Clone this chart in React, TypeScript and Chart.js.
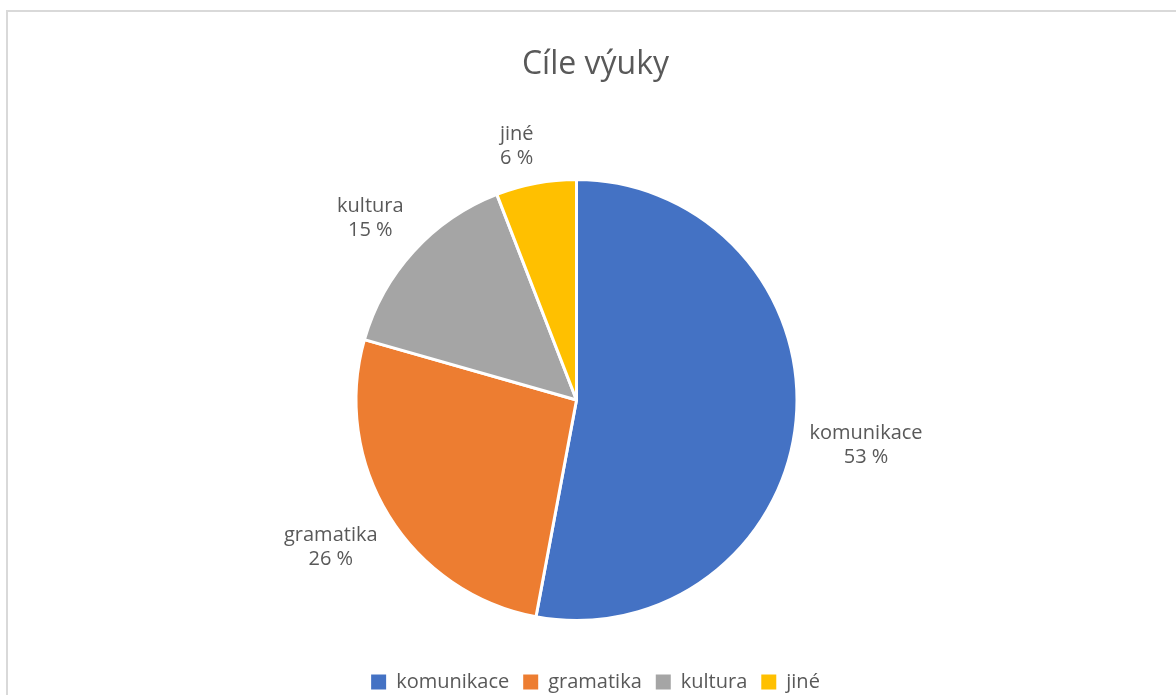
import { useEffect, useRef } from "react";
import { Chart, registerables } from "chart.js";

Chart.register(...registerables);

// ---- data ----
const chartTitle = "Cíle výuky";
const categories = ["komunikace", "gramatika", "kultura", "jiné"];
const counts = [18, 9, 5, 2];
const sliceColors = ["#4472C4", "#ED7D31", "#A5A5A5", "#FFC000"];

// ---- style / layout ----
const FONT = "'Open Sans', 'DejaVu Sans', sans-serif";
const TEXT_COLOR = "#595959";
const CANVAS_W = 1175;
const CANVAS_H = 690;
const PIE_CX = 568.5; // canvas-local
const PIE_CY = 388;
const PIE_HALF = 222; // half of the square area given to the pie
const SLICE_BORDER = 3;
const LABEL_GAP = 13.5;
const LABEL_LINE_H = 24;
const LABEL_SIZE = 20;

const pieArea = {
  id: "pieArea",
  afterLayout(chart: any) {
    chart.chartArea = {
      left: PIE_CX - PIE_HALF,
      right: PIE_CX + PIE_HALF,
      top: PIE_CY - PIE_HALF,
      bottom: PIE_CY + PIE_HALF,
      width: PIE_HALF * 2,
      height: PIE_HALF * 2,
    };
  },
};

const pieLabels = {
  id: "pieLabels",
  afterDatasetsDraw(chart: any) {
    const ctx = chart.ctx;
    const meta = chart.getDatasetMeta(0);
    const data = chart.data.datasets[0].data as number[];
    const total = data.reduce((a, b) => a + b, 0);
    ctx.save();
    ctx.font = `${LABEL_SIZE}px ${FONT}`;
    ctx.fillStyle = TEXT_COLOR;
    ctx.textAlign = "center";
    ctx.textBaseline = "middle";
    meta.data.forEach((arc: any, i: number) => {
      const { x, y, startAngle, endAngle, outerRadius } = arc.getProps(
        ["x", "y", "startAngle", "endAngle", "outerRadius"],
        true
      );
      const mid = (startAngle + endAngle) / 2;
      const cos = Math.cos(mid);
      const sin = Math.sin(mid);
      const lines = [
        String(chart.data.labels[i]),
        `${Math.round((data[i] / total) * 100)} %`,
      ];
      const hw = Math.max(...lines.map((l) => ctx.measureText(l).width)) / 2;
      const hh = (LABEL_LINE_H * lines.length) / 2;
      const d = outerRadius + LABEL_GAP;
      const px = x + d * cos;
      const py = y + d * sin;
      const cx = px + Math.sign(cos) * hw;
      const cy = py + Math.sign(sin) * hh;
      lines.forEach((l, k) => {
        ctx.fillText(l, cx, cy + (k - (lines.length - 1) / 2) * LABEL_LINE_H);
      });
    });
    ctx.restore();
  },
};

export default function App() {
  const ref = useRef<HTMLCanvasElement | null>(null);

  useEffect(() => {
    if (!ref.current) return;
    const chart = new Chart(ref.current, {
      type: "pie",
      data: {
        labels: categories,
        datasets: [
          {
            data: counts,
            backgroundColor: sliceColors,
            borderColor: "#ffffff",
            borderWidth: SLICE_BORDER,
            clip: false as any,
          },
        ],
      },
      options: {
        responsive: false,
        animation: false,
        layout: { padding: 0 },
        plugins: {
          title: {
            display: true,
            text: chartTitle,
            color: TEXT_COLOR,
            font: { family: FONT, size: 32, weight: "normal" as any },
            padding: { top: 34, bottom: 10 },
          },
          legend: {
            display: true,
            position: "bottom",
            labels: {
              color: TEXT_COLOR,
              font: { family: FONT, size: 20 },
              boxWidth: 15,
              boxHeight: 15,
              padding: 14,
              generateLabels: (c: any) =>
                (Chart as any).overrides.pie.plugins.legend.labels
                  .generateLabels(c)
                  .map((l: any) => ({ ...l, lineWidth: 0 })),
            },
          },
          tooltip: { enabled: false },
        },
      },
      plugins: [pieArea, pieLabels],
    });
    return () => chart.destroy();
  }, []);

  return (
    <div
      style={{
        position: "fixed",
        inset: 0,
        overflow: "hidden",
        background: "#ffffff",
      }}
    >
      <div
        style={{
          position: "absolute",
          left: 6,
          top: 10,
          width: 1200,
          height: 720,
          border: "2px solid #d9d9d9",
          boxSizing: "border-box",
        }}
      />
      <canvas
        ref={ref}
        width={CANVAS_W}
        height={CANVAS_H}
        style={{
          position: "absolute",
          left: 8,
          top: 12,
          width: CANVAS_W,
          height: CANVAS_H,
          display: "block",
        }}
      />
    </div>
  );
}
